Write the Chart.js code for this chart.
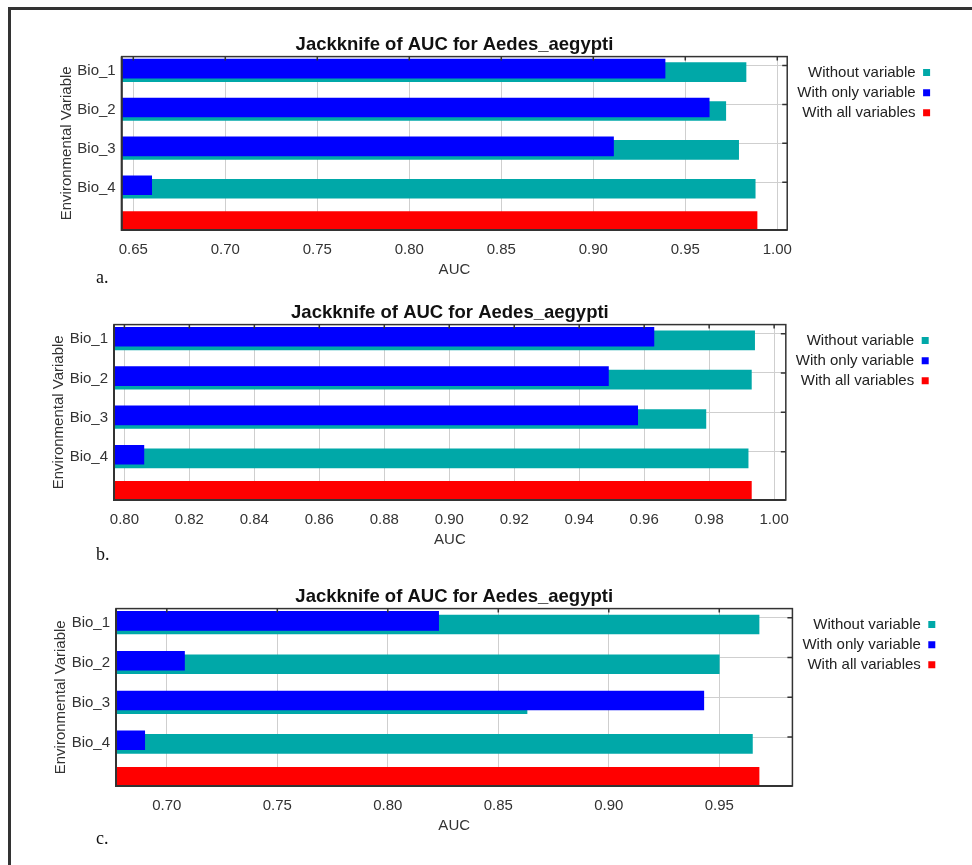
<!DOCTYPE html>
<html>
<head>
<meta charset="utf-8">
<script src="https://cdn.jsdelivr.net/npm/chart.js@4.4.1/dist/chart.umd.min.js"></script>
<style>
  body { margin: 0; background: #fff; }
  #page { position: relative; width: 972px; height: 865px; overflow: hidden; }
  .edge { position: absolute; background: #333; }
  canvas { position: absolute; left: 0; }
  .tag { position: absolute; left: 96px; font: 18px 'Liberation Serif', 'Times New Roman', serif; line-height: 18px; color: #111; }
</style>
</head>
<body>
<div id="page">
  <div class="edge" style="left:8px;top:7px;width:964px;height:3px"></div>
  <div class="edge" style="left:8px;top:7px;width:3px;height:858px"></div>
  <canvas id="chartA" width="972" height="273" style="top:18px"></canvas>
  <canvas id="chartB" width="972" height="275" style="top:286px"></canvas>
  <canvas id="chartC" width="972" height="277" style="top:570px"></canvas>
  <div class="tag" style="top:268px">a.</div>
  <div class="tag" style="top:545px">b.</div>
  <div class="tag" style="top:829px">c.</div>
</div>
<script>
// variables, same for all three runs
const categories = ['Bio_1', 'Bio_2', 'Bio_3', 'Bio_4']

// a.
const aWithout = [0.983, 0.972, 0.979, 0.988]
const aWithOnly = [0.939, 0.963, 0.911, 0.660]
const aWithAll = 0.989
const aTicks = [0.65, 0.70, 0.75, 0.80, 0.85, 0.90, 0.95, 1.00]

// b.
const bWithout = [0.994, 0.993, 0.979, 0.992]
const bWithOnly = [0.963, 0.949, 0.958, 0.806]
const bWithAll = 0.993
const bTicks = [0.80, 0.82, 0.84, 0.86, 0.88, 0.90, 0.92, 0.94, 0.96, 0.98, 1.00]

// c.
const cWithout = [0.968, 0.950, 0.863, 0.965]
const cWithOnly = [0.823, 0.708, 0.943, 0.690]
const cWithAll = 0.968
const cTicks = [0.70, 0.75, 0.80, 0.85, 0.90, 0.95]

const TEAL = '#00a8a8'
const BLUE = '#0000ff'
const RED = '#ff0000'
const FONT = "'Liberation Sans', Arial, sans-serif"

// plot frame with little inward ticks on top and right, like the maxent output
const framePlugin = {
    id: 'frame',
    afterDatasetsDraw(chart) {
        const { ctx, chartArea: { left, right, top, bottom }, scales: { x, y } } = chart
        ctx.save()
        ctx.strokeStyle = '#333'
        ctx.lineWidth = 1.5
        ctx.strokeRect(left, top, right - left, bottom - top)
        ctx.beginPath()
        x.ticks.forEach(t => {
            const px = x.getPixelForValue(t.value)
            ctx.moveTo(px, top)
            ctx.lineTo(px, top + 4)
        })
        y.ticks.forEach(t => {
            const py = y.getPixelForValue(t.value)
            ctx.moveTo(right, py)
            ctx.lineTo(right - 5, py)
        })
        ctx.stroke()
        // bottom and left edges are a bit heavier
        ctx.lineWidth = 2
        ctx.beginPath()
        ctx.moveTo(left, top)
        ctx.lineTo(left, bottom)
        ctx.lineTo(right, bottom)
        ctx.stroke()
        ctx.restore()
    }
}

const toPoints = (vals) => vals.map((v, i) => ({ x: v, y: i }))

const makeChart = (id, without, withOnly, withAll, ticks, xMin, xMax, pad) => {
    const ctx = document.getElementById(id)
    const yRange = { min: -0.23, max: 4.23 }
    return new Chart(ctx, {
        type: 'bar',
        plugins: [framePlugin],
        data: {
            datasets: [
                {
                    label: 'Without variable',
                    data: toPoints(without),
                    backgroundColor: TEAL,
                    yAxisID: 'yTeal',
                    order: 2
                },
                {
                    label: 'With only variable',
                    data: toPoints(withOnly),
                    backgroundColor: BLUE,
                    yAxisID: 'yBlue',
                    order: 1
                },
                {
                    label: 'With all variables',
                    data: [{ x: withAll, y: categories.length }],
                    backgroundColor: RED,
                    yAxisID: 'y',
                    order: 3
                }
            ]
        },
        options: {
            indexAxis: 'y',
            responsive: false,
            animation: false,
            devicePixelRatio: 1,
            grouped: false,
            barThickness: 19,
            layout: { padding: { left: pad.left, right: pad.right, top: 0, bottom: 8 } },
            scales: {
                x: {
                    type: 'linear',
                    min: xMin,
                    max: xMax,
                    afterBuildTicks: axis => { axis.ticks = ticks.map(v => ({ value: v })) },
                    afterFit: axis => { axis.height = 53 },
                    ticks: {
                        callback: v => v.toFixed(2),
                        padding: 11,
                        maxRotation: 0,
                        autoSkip: false,
                        color: '#333',
                        font: { family: FONT, size: 15 }
                    },
                    grid: { color: '#cfcfcf', drawTicks: false },
                    border: { display: false },
                    title: {
                        display: true,
                        text: 'AUC',
                        color: '#333',
                        padding: { top: 2, bottom: 4 },
                        font: { family: FONT, size: 15 }
                    }
                },
                y: {
                    type: 'linear',
                    position: 'left',
                    reverse: true,
                    offset: false,
                    min: yRange.min,
                    max: yRange.max,
                    afterBuildTicks: axis => { axis.ticks = categories.map((c, i) => ({ value: i })) },
                    afterFit: axis => { axis.width = 64.2 },
                    ticks: {
                        callback: v => categories[v],
                        padding: 6,
                        labelOffset: 5.5,
                        color: '#333',
                        font: { family: FONT, size: 15 }
                    },
                    grid: { color: '#cfcfcf', drawTicks: false, offset: false },
                    border: { display: false },
                    title: {
                        display: true,
                        text: 'Environmental Variable',
                        color: '#333',
                        padding: 0,
                        font: { family: FONT, size: 15 }
                    }
                },
                // the two jackknife bars sit a bit below the gridline, blue over teal
                yTeal: { type: 'linear', display: false, reverse: true, offset: false, min: yRange.min - 0.17, max: yRange.max - 0.17 },
                yBlue: { type: 'linear', display: false, reverse: true, offset: false, min: yRange.min - 0.08, max: yRange.max - 0.08 }
            },
            plugins: {
                title: {
                    display: true,
                    text: 'Jackknife of AUC for Aedes_aegypti',
                    color: '#111',
                    fullSize: false,
                    padding: { top: 15.5, bottom: 0.9 },
                    font: { family: FONT, size: 18.5, weight: 'bold' }
                },
                legend: {
                    position: 'right',
                    align: 'start',
                    fullSize: false,
                    rtl: true,
                    title: { display: true, text: '', padding: { top: 2.4, bottom: 0 }, font: { size: 1, lineHeight: 1 } },
                    labels: {
                        boxWidth: 7,
                        boxHeight: 7,
                        padding: 5.1,
                        color: '#222',
                        font: { family: FONT, size: 15 },
                        sort: (a, b) => a.datasetIndex - b.datasetIndex
                    }
                },
                tooltip: { enabled: false }
            }
        }
    })
}

makeChart('chartA', aWithout, aWithOnly, aWithAll, aTicks, 0.6437, 1.0054, { left: 57.5, right: 36.8 })
makeChart('chartB', bWithout, bWithOnly, bWithAll, bTicks, 0.7968, 1.0036, { left: 49.8, right: 38.2 })
makeChart('chartC', cWithout, cWithOnly, cWithAll, cTicks, 0.677, 0.9831, { left: 51.8, right: 31.6 })
</script>
</body>
</html>
